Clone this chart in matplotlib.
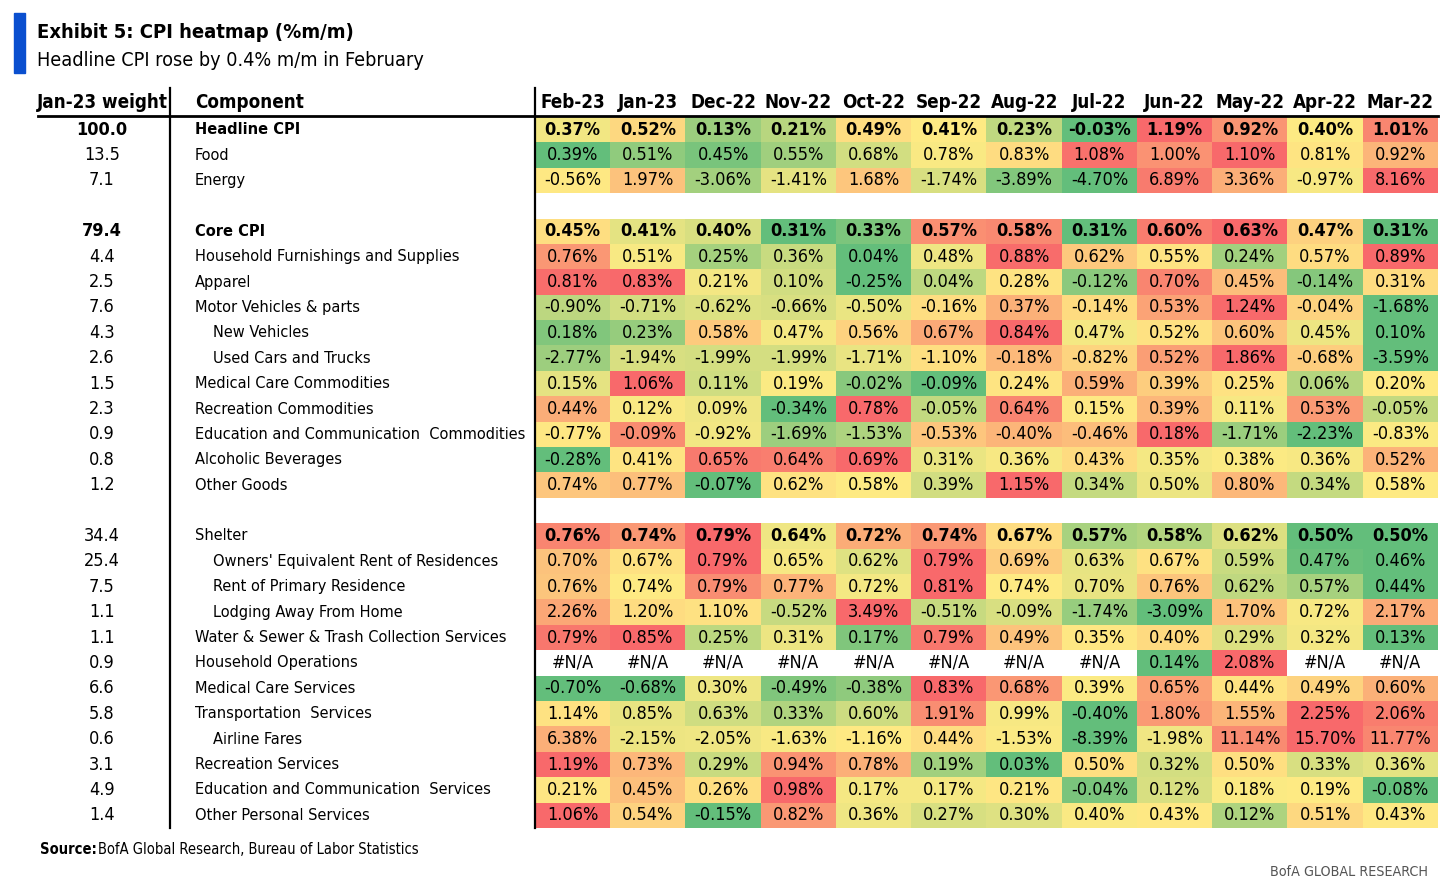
import numpy as np
import matplotlib
matplotlib.use("Agg")
import matplotlib.pyplot as plt
from matplotlib import font_manager
from matplotlib.colors import LinearSegmentedColormap
from matplotlib.patches import Rectangle

# the original uses a narrow sans; take DejaVu Sans Condensed if it is there
plt.rcParams['font.family'] = ['DejaVu Sans']
plt.rcParams['font.stretch'] = 'condensed'
_path = font_manager.findfont(font_manager.FontProperties(family='DejaVu Sans', stretch='condensed'))
narrow = 'Condensed' in _path
scale = 1.0 if narrow else 0.8

months = ['Feb-23', 'Jan-23', 'Dec-22', 'Nov-22', 'Oct-22', 'Sep-22',
          'Aug-22', 'Jul-22', 'Jun-22', 'May-22', 'Apr-22', 'Mar-22']

# None = blank spacer row
components = [
    'Headline CPI', 'Food', 'Energy', None,
    'Core CPI', 'Household Furnishings and Supplies', 'Apparel',
    'Motor Vehicles & parts', 'New Vehicles', 'Used Cars and Trucks',
    'Medical Care Commodities', 'Recreation Commodities',
    'Education and Communication  Commodities', 'Alcoholic Beverages',
    'Other Goods', None,
    'Shelter', "Owners' Equivalent Rent of Residences", 'Rent of Primary Residence',
    'Lodging Away From Home', 'Water & Sewer & Trash Collection Services',
    'Household Operations', 'Medical Care Services', 'Transportation  Services',
    'Airline Fares', 'Recreation Services', 'Education and Communication  Services',
    'Other Personal Services',
]
weights = ['100.0', '13.5', '7.1', None,
           '79.4', '4.4', '2.5', '7.6', '4.3', '2.6', '1.5', '2.3', '0.9', '0.8', '1.2', None,
           '34.4', '25.4', '7.5', '1.1', '1.1', '0.9', '6.6', '5.8', '0.6', '3.1', '4.9', '1.4']

indented = {'New Vehicles', 'Used Cars and Trucks', "Owners' Equivalent Rent of Residences",
            'Rent of Primary Residence', 'Lodging Away From Home', 'Airline Fares'}
bold_label = {'Headline CPI', 'Core CPI'}
bold_values = {'Headline CPI', 'Core CPI', 'Shelter'}

na = np.nan
values = [
    [0.37, 0.52, 0.13, 0.21, 0.49, 0.41, 0.23, -0.03, 1.19, 0.92, 0.40, 1.01],
    [0.39, 0.51, 0.45, 0.55, 0.68, 0.78, 0.83, 1.08, 1.00, 1.10, 0.81, 0.92],
    [-0.56, 1.97, -3.06, -1.41, 1.68, -1.74, -3.89, -4.70, 6.89, 3.36, -0.97, 8.16],
    None,
    [0.45, 0.41, 0.40, 0.31, 0.33, 0.57, 0.58, 0.31, 0.60, 0.63, 0.47, 0.31],
    [0.76, 0.51, 0.25, 0.36, 0.04, 0.48, 0.88, 0.62, 0.55, 0.24, 0.57, 0.89],
    [0.81, 0.83, 0.21, 0.10, -0.25, 0.04, 0.28, -0.12, 0.70, 0.45, -0.14, 0.31],
    [-0.90, -0.71, -0.62, -0.66, -0.50, -0.16, 0.37, -0.14, 0.53, 1.24, -0.04, -1.68],
    [0.18, 0.23, 0.58, 0.47, 0.56, 0.67, 0.84, 0.47, 0.52, 0.60, 0.45, 0.10],
    [-2.77, -1.94, -1.99, -1.99, -1.71, -1.10, -0.18, -0.82, 0.52, 1.86, -0.68, -3.59],
    [0.15, 1.06, 0.11, 0.19, -0.02, -0.09, 0.24, 0.59, 0.39, 0.25, 0.06, 0.20],
    [0.44, 0.12, 0.09, -0.34, 0.78, -0.05, 0.64, 0.15, 0.39, 0.11, 0.53, -0.05],
    [-0.77, -0.09, -0.92, -1.69, -1.53, -0.53, -0.40, -0.46, 0.18, -1.71, -2.23, -0.83],
    [-0.28, 0.41, 0.65, 0.64, 0.69, 0.31, 0.36, 0.43, 0.35, 0.38, 0.36, 0.52],
    [0.74, 0.77, -0.07, 0.62, 0.58, 0.39, 1.15, 0.34, 0.50, 0.80, 0.34, 0.58],
    None,
    [0.76, 0.74, 0.79, 0.64, 0.72, 0.74, 0.67, 0.57, 0.58, 0.62, 0.50, 0.50],
    [0.70, 0.67, 0.79, 0.65, 0.62, 0.79, 0.69, 0.63, 0.67, 0.59, 0.47, 0.46],
    [0.76, 0.74, 0.79, 0.77, 0.72, 0.81, 0.74, 0.70, 0.76, 0.62, 0.57, 0.44],
    [2.26, 1.20, 1.10, -0.52, 3.49, -0.51, -0.09, -1.74, -3.09, 1.70, 0.72, 2.17],
    [0.79, 0.85, 0.25, 0.31, 0.17, 0.79, 0.49, 0.35, 0.40, 0.29, 0.32, 0.13],
    [na, na, na, na, na, na, na, na, 0.14, 2.08, na, na],
    [-0.70, -0.68, 0.30, -0.49, -0.38, 0.83, 0.68, 0.39, 0.65, 0.44, 0.49, 0.60],
    [1.14, 0.85, 0.63, 0.33, 0.60, 1.91, 0.99, -0.40, 1.80, 1.55, 2.25, 2.06],
    [6.38, -2.15, -2.05, -1.63, -1.16, 0.44, -1.53, -8.39, -1.98, 11.14, 15.70, 11.77],
    [1.19, 0.73, 0.29, 0.94, 0.78, 0.19, 0.03, 0.50, 0.32, 0.50, 0.33, 0.36],
    [0.21, 0.45, 0.26, 0.98, 0.17, 0.17, 0.21, -0.04, 0.12, 0.18, 0.19, -0.08],
    [1.06, 0.54, -0.15, 0.82, 0.36, 0.27, 0.30, 0.40, 0.43, 0.12, 0.51, 0.43],
]

# excel-style 3 colour scale, green low / yellow median / red high, per row
cmap = LinearSegmentedColormap.from_list('rdylgn_xl', ['#63BE7B', '#FFEB84', '#F8696B'])


def row_colors(row):
    v = np.array(row, dtype=float)
    ok = ~np.isnan(v)
    lo, mid, hi = np.min(v[ok]), np.median(v[ok]), np.max(v[ok])
    t = np.full(v.shape, np.nan)
    below = ok & (v <= mid)
    above = ok & (v > mid)
    t[below] = 0.5 * (v[below] - lo) / (mid - lo) if mid > lo else 0.5
    t[above] = 0.5 + 0.5 * (v[above] - mid) / (hi - mid)
    rgb = cmap(np.nan_to_num(t))[:, :3]
    rgb[~ok] = 1.0
    return rgb


n_rows = len(components)
n_cols = len(months)
rgb = np.ones((n_rows, n_cols, 3))
for i, row in enumerate(values):
    if row is not None:
        rgb[i] = row_colors(row)

fig = plt.figure(figsize=(14.56, 8.9), dpi=100)
ax = fig.add_axes([0, 0, 1, 1])
ax.set_xlim(0, 1456)
ax.set_ylim(890, 0)
ax.axis('off')

x0, x1 = 535, 1438
y0, y1 = 117, 828
row_h = (y1 - y0) / n_rows
col_w = (x1 - x0) / n_cols

ax.imshow(rgb, extent=(x0, x1, y1, y0), aspect='auto', interpolation='nearest', zorder=1)

fs = 13 * scale
fs_lab = 11.7 * scale
for i, comp in enumerate(components):
    if comp is None:
        continue
    yc = y0 + (i + 0.5) * row_h
    ax.text(102, yc, weights[i], ha='center', va='center', fontsize=fs,
            fontweight='bold' if comp in bold_label else 'normal')
    ax.text(213 if comp in indented else 195, yc, comp, ha='left', va='center', fontsize=fs_lab,
            fontweight='bold' if comp in bold_label else 'normal')
    for j, v in enumerate(values[i]):
        s = '#N/A' if np.isnan(v) else f'{v:.2f}%'
        ax.text(x0 + (j + 0.5) * col_w, yc, s, ha='center', va='center', fontsize=fs,
                fontweight='bold' if comp in bold_values else 'normal', zorder=3)

# headers
hy = 102
ax.text(102, hy, 'Jan-23 weight', ha='center', va='center', fontsize=13.5 * scale,
        fontweight='bold')
ax.text(195, hy, 'Component', ha='left', va='center', fontsize=13.5 * scale, fontweight='bold')
for j, m in enumerate(months):
    ax.text(x0 + (j + 0.5) * col_w, hy, m, ha='center', va='center', fontsize=13.5 * scale,
            fontweight='bold')

ax.plot([38, x1], [116, 116], color='black', lw=2, zorder=4)
ax.plot([170, 170], [88, y1], color='black', lw=1.6, zorder=4)
ax.plot([x0, x0], [88, y1], color='black', lw=1.6, zorder=4)

# title block
ax.add_patch(Rectangle((14, 13), 11, 60, color='#0A4FCF', zorder=4))
ax.text(37, 33, 'Exhibit 5: CPI heatmap (%m/m)', ha='left', va='center', fontsize=14.5 * scale,
        fontweight='bold')
ax.text(37, 60, 'Headline CPI rose by 0.4% m/m in February', ha='left', va='center',
        fontsize=14.2 * scale)

ax.text(40, 849, 'Source:', ha='left', va='center', fontsize=10.5 * scale, fontweight='bold')
ax.text(40 + (58 if narrow else 48), 849, 'BofA Global Research, Bureau of Labor Statistics',
        ha='left', va='center', fontsize=10.5 * scale)
ax.text(1428, 872, 'BofA GLOBAL RESEARCH', ha='right', va='center', fontsize=10.3 * scale,
        color='#555555')

fig.savefig('out.png', dpi=100)
